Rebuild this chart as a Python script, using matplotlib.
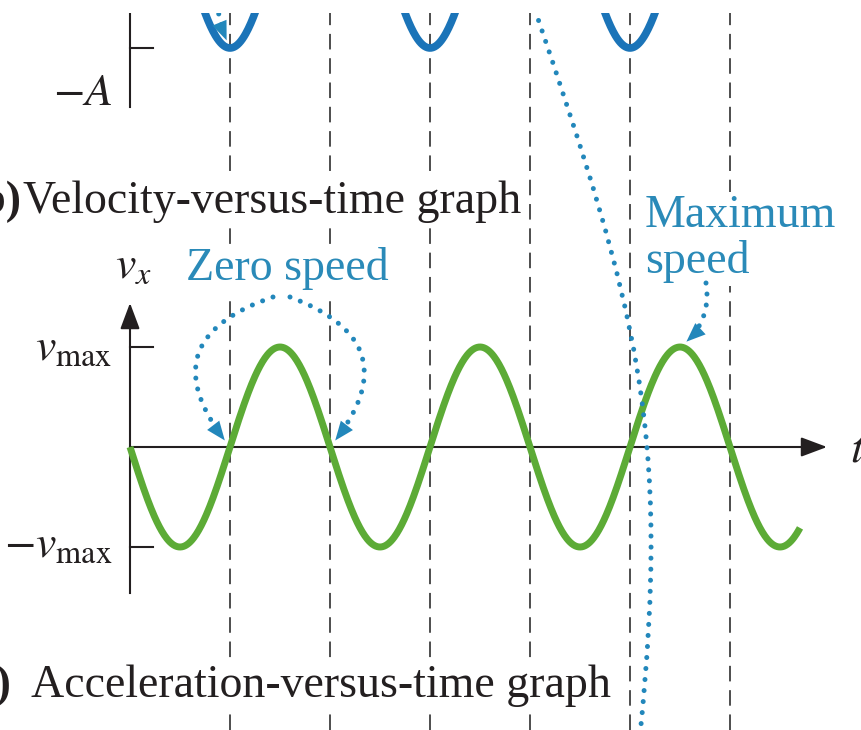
import numpy as np
import matplotlib.pyplot as plt
from matplotlib.patches import FancyArrowPatch, PathPatch
from matplotlib.path import Path

plt.rcParams['font.family'] = ['Liberation Serif', 'DejaVu Serif']
plt.rcParams['mathtext.fontset'] = 'stix'

# oscillator: time in periods, velocity in units of v_max
period = 1.0
v_max = 1.0
t_end = 3.35
# position graph above (only its lower part is in view)
amp_pos = 1.2
pos_center = 5.19
half_periods = [0.5, 1.0, 1.5, 2.0, 2.5, 3.0]
zero_speed_times = [0.5, 1.0]
max_speed_time = 2.75

# leader line that runs down from the graph above (bezier control points)
leader_t = [2.025, 2.535, 2.705, 2.55]
leader_v = [4.37, 1.37, 0.17, -2.88]

blue = '#1b74b8'
dot_blue = '#2287bb'
label_blue = '#2a8ab8'
green = '#5cab36'
ink = '#231f20'
fs = 33

fig = plt.figure(figsize=(8.62, 7.30), dpi=100)
ax = fig.add_axes([0, 0, 1, 717 / 730])
ax.set_xlim(-0.65, 3.66)
ax.set_ylim(-2.83, 4.34)
ax.axis('off')

t = np.linspace(0, t_end, 800)
vel = -v_max * np.sin(2 * np.pi * t / period)
pos = pos_center + amp_pos * np.cos(2 * np.pi * t / period)

# dashed guides every half period
for tp in half_periods:
    ax.axvline(tp, color='#4d4d4d', lw=1.4, linestyle=(0, (8, 4.5)), zorder=1)

# curves
ax.plot(t, pos, color=blue, lw=5.5, solid_capstyle='butt', zorder=3)
ax.plot(t, vel, color=green, lw=5, solid_capstyle='butt', zorder=4)

# axes of the position graph
pos_min = pos_center - amp_pos
ax.plot([0, 0], [4.4, 3.40], color=ink, lw=1.5, zorder=3)
ax.plot([0, 0.115], [pos_min, pos_min], color=ink, lw=1.5, zorder=3)
ax.text(-0.09, 3.42, r'$-A$', ha='right', va='baseline', fontsize=fs, color=ink)

# axes of the velocity graph
ax.plot([0, 0], [-1.46, 0], color=ink, lw=1.5, zorder=3)
ax.annotate('', xy=(0, 1.44), xytext=(0, -0.01),
            arrowprops=dict(arrowstyle='-|>,head_length=0.8,head_width=0.3',
                            color=ink, lw=1.5, mutation_scale=20, shrinkA=0, shrinkB=0), zorder=3)
ax.annotate('', xy=(3.485, 0), xytext=(0, 0),
            arrowprops=dict(arrowstyle='-|>,head_length=0.8,head_width=0.3',
                            color=ink, lw=1.5, mutation_scale=20, shrinkA=0, shrinkB=0), zorder=3)
for vv in [v_max, -v_max]:
    ax.plot([0, 0.115], [vv, vv], color=ink, lw=1.5, zorder=3)
ax.text(-0.09, 0.87, r'$v_{\mathrm{max}}$', ha='right', va='baseline', fontsize=fs, color=ink)
ax.text(-0.09, -1.10, r'$-v_{\mathrm{max}}$', ha='right', va='baseline', fontsize=fs, color=ink)
ax.text(-0.075, 1.69, r'$v_x$', ha='left', va='baseline', fontsize=fs, color=ink)
ax.text(3.6, -0.15, r'$t$', ha='left', va='baseline', fontsize=fs, color=ink)

# section titles
white = dict(fc='white', ec='none', pad=2)
ax.text(-0.545, 2.34, '(b)', ha='right', va='baseline', fontsize=fs, fontweight='bold', color=ink)
ax.text(-0.535, 2.34, 'Velocity-versus-time graph', ha='left', va='baseline',
        fontsize=fs, color=ink, bbox=white, zorder=2)
ax.text(-0.595, -2.50, '(c)', ha='right', va='baseline', fontsize=fs, fontweight='bold', color=ink)
ax.text(-0.495, -2.50, 'Acceleration-versus-time graph', ha='left', va='baseline',
        fontsize=fs, color=ink, bbox=white, zorder=2)

# annotations
ax.text(0.785, 1.67, 'Zero speed', ha='center', va='baseline', fontsize=fs,
        color=label_blue, bbox=white, zorder=2)
ax.text(2.575, 2.20, 'Maximum', ha='left', va='baseline', fontsize=fs,
        color=label_blue, bbox=white, zorder=2)
ax.text(2.575, 1.74, 'speed', ha='left', va='baseline', fontsize=fs,
        color=label_blue, bbox=white, zorder=2)

dots = (0, (0.01, 2.2))


def dotted_arrow(start, end, rad):
    conn = 'arc3,rad=%s' % rad
    ax.add_patch(FancyArrowPatch(start, end, connectionstyle=conn, arrowstyle='-',
                                 color=dot_blue, lw=3.6, linestyle=dots, capstyle='round',
                                 shrinkA=0, shrinkB=14, zorder=6))
    ax.add_patch(FancyArrowPatch(start, end, connectionstyle=conn,
                                 arrowstyle='-|>,head_length=0.55,head_width=0.22',
                                 mutation_scale=25, color=dot_blue, lw=0,
                                 shrinkA=0, shrinkB=6, zorder=6))


dotted_arrow((0.715, 1.50), (zero_speed_times[0], 0), 0.72)
dotted_arrow((0.80, 1.50), (zero_speed_times[1], 0), -0.7)
dotted_arrow((2.88, 1.64), (max_speed_time, v_max), -0.3)
dotted_arrow((0.43, 4.55), (0.5, pos_min), 0.1)

leader = Path(list(zip(leader_t, leader_v)), [Path.MOVETO, Path.CURVE4, Path.CURVE4, Path.CURVE4])
ax.add_patch(PathPatch(leader, fill=False, edgecolor=dot_blue, lw=3.6,
                       linestyle=dots, capstyle='round', zorder=6))

fig.savefig('out.png', dpi=100, facecolor='white')
